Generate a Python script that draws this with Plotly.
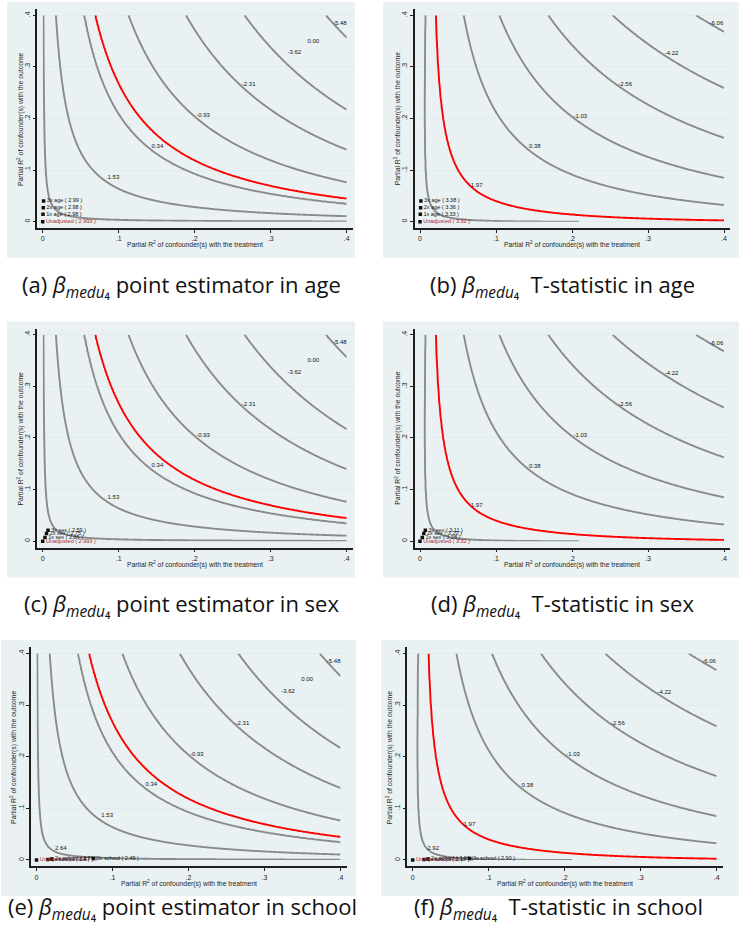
import numpy as np
import plotly.graph_objects as go

W, H = 739, 932

# ---------------- data ----------------
EST = 2.993        # unadjusted point estimate of beta_medu4
T_UNADJ = 3.32     # unadjusted t-statistic
DOF = 372          # residual degrees of freedom (fitted to curve shapes)

PT_LEVELS = [2.64, 1.53, 0.34, 0.00, -0.93, -2.31, -3.62, -5.48]
PT_THRESHOLD = 0.00
T_LEVELS = [2.92, 1.97, 0.38, -1.03, -2.56, -4.22, -6.06]
T_THRESHOLD = 1.97

PT_LABEL_TEXT = ["1.53", "0.34", "-0.93", "-2.31", "-3.62", "0.00", "-5.48"]
T_LABEL_TEXT = ["1.97", "0.38", "-1.03", "-2.56", "-4.22", "-6.06"]

AGE_R2D = [0.0, 0.0004, 0.0008, 0.0012]
AGE_R2Y = [0.0, 0.0145, 0.027, 0.040]
AGE_PT_TEXT = ["Unadjusted ( 2.993 )", "1x age ( 2.98 )", "2x age ( 2.98 )", "3x age ( 2.99 )"]
AGE_T_TEXT = ["Unadjusted ( 3.32 )", "1x age ( 3.33 )", "2x age ( 3.36 )", "3x age ( 3.38 )"]

SEX_R2D = [0.0, 0.003, 0.005, 0.007]
SEX_R2Y = [0.0, 0.007, 0.015, 0.021]
SEX_PT_TEXT = ["Unadjusted ( 2.993 )", "1x sex ( 2.86 )", "2x sex ( 2.75 )", "3x sex ( 2.59 )"]
SEX_T_TEXT = ["Unadjusted ( 3.32 )", "1x sex ( 3.28 )", "2x sex ( 3.20 )", "3x sex ( 3.11 )"]

SCHOOL_R2D = [0.0, 0.015, 0.02, 0.075]
SCHOOL_R2Y = [0.0, 0.001, 0.002, 0.003]
SCHOOL_PT_TEXT = ["Unadjusted ( 2.993 )", "1x school ( 2.87 )", "2x school ( 2.76 )", "3x school ( 2.49 )"]
SCHOOL_T_TEXT = ["Unadjusted ( 3.32 )", "1x school ( 3.18 )", "2x school ( 3.06 )", "3x school ( 2.90 )"]

TICK_VALS = [0, 0.1, 0.2, 0.3, 0.4]
TICK_TEXT = ["0", ".1", ".2", ".3", ".4"]

CAPTIONS = [
    "(a) <i>β</i><sub><i>medu</i>₄</sub> point estimator in age",
    "(b) <i>β</i><sub><i>medu</i>₄</sub>  T-statistic in age",
    "(c) <i>β</i><sub><i>medu</i>₄</sub> point estimator in sex",
    "(d) <i>β</i><sub><i>medu</i>₄</sub>  T-statistic in sex",
    "(e) <i>β</i><sub><i>medu</i>₄</sub> point estimator in school",
    "(f) <i>β</i><sub><i>medu</i>₄</sub>  T-statistic in school",
]
XTITLE = "Partial R<sup>2</sup> of confounder(s) with the treatment"
YTITLE = "Partial R<sup>2</sup> of confounder(s) with the outcome"

# ---------------- layout / style config ----------------
PT_LABEL_POS = [(0.093, 0.0855), (0.151, 0.146), (0.211, 0.205), (0.271, 0.265),
                (0.331, 0.327), (0.356, 0.350), (0.391, 0.385)]
T_LABEL_POS = [(0.0746, 0.0697), (0.151, 0.145), (0.211, 0.2046), (0.270, 0.265),
               (0.331, 0.325), (0.390, 0.384)]
EXTRA_LABEL = {4: ("2.64", 0.032, 0.023), 5: ("2.92", 0.027, 0.023)}

GRAY = "#8a8a8a"
RED = "#ff0000"
BG = "#eaf1f3"
GRID = "#e2ecef"
AX = "#1e1e1e"
FONT = "Liberation Sans, Arial, sans-serif"
XS, YS = 760.0, 516.0            # px per data unit
XR = [-0.007, 0.408]
YR = [-0.0125, 0.412]

PANELS = [
    dict(x0=42.7, y0=221.7, bg=(7, 2, 355, 258), kind="pt", r2d=AGE_R2D, r2y=AGE_R2Y, txt=AGE_PT_TEXT, capx=181, capy=286),
    dict(x0=420.0, y0=221.7, bg=(383, 2, 739, 258), kind="t", r2d=AGE_R2D, r2y=AGE_R2Y, txt=AGE_T_TEXT, capx=562, capy=286),
    dict(x0=42.7, y0=541.2, bg=(7, 321.5, 355, 577.5), kind="pt", r2d=SEX_R2D, r2y=SEX_R2Y, txt=SEX_PT_TEXT, capx=181, capy=605),
    dict(x0=420.0, y0=541.2, bg=(383, 321.5, 739, 577.5), kind="t", r2d=SEX_R2D, r2y=SEX_R2Y, txt=SEX_T_TEXT, capx=562, capy=605),
    dict(x0=36.5, y0=860.0, bg=(1, 640, 356, 896), kind="pt", r2d=SCHOOL_R2D, r2y=SCHOOL_R2Y, txt=SCHOOL_PT_TEXT, capx=182, capy=908),
    dict(x0=412.7, y0=860.0, bg=(381, 640, 739, 896), kind="t", r2d=SCHOOL_R2D, r2y=SCHOOL_R2Y, txt=SCHOOL_T_TEXT, capx=558, capy=908),
]

# ---------------- sensitivity surfaces ----------------
SE = EST / T_UNADJ
G = np.unique(np.concatenate([np.geomspace(1e-5, 0.02, 90), np.linspace(0.02, 0.4, 220)]))
X, Y = np.meshgrid(G, G)
BIAS = SE * np.sqrt(DOF) * np.sqrt(X * Y / (1 - X))
Z_PT = EST - BIAS
Z_T = (EST - BIAS) / (SE * np.sqrt((1 - Y) / (1 - X)) * np.sqrt(DOF / (DOF - 1)))


def level_index(z, levels, thr):
    lv = sorted(levels)
    n = len(lv)
    zi = np.interp(z, [lv[0] - 5] + lv + [lv[-1] + 5], [-1] + list(range(n)) + [n])
    return np.round(zi, 5), n, lv.index(thr)


def cscale(r, n):
    a = max((r - 0.5) / (n - 1), 0.0)
    b = min((r + 0.5) / (n - 1), 1.0)
    return [[0, GRAY], [a, GRAY], [a, RED], [b, RED], [b, GRAY], [1, GRAY]]


def px(x):
    return x / W


def py(y):
    return 1 - y / H


fig = go.Figure()
shapes, annotations = [], []
layout_axes = {}

for i, p in enumerate(PANELS):
    k = "" if i == 0 else str(i + 1)
    xa, ya = "x" + k, "y" + k
    left = p["x0"] + XR[0] * XS
    right = p["x0"] + XR[1] * XS
    bottom = p["y0"] - YR[0] * YS
    top = p["y0"] - YR[1] * YS

    bx0, by0, bx1, by1 = p["bg"]
    shapes.append(dict(type="rect", xref="paper", yref="paper", x0=px(bx0), x1=px(bx1),
                       y0=py(by1), y1=py(by0), fillcolor=BG, line=dict(width=0), layer="below"))

    common = dict(tickvals=TICK_VALS, ticktext=TICK_TEXT, ticks="outside", ticklen=3, tickwidth=1,
                  tickcolor=AX, showline=True, linecolor=AX, linewidth=1.6, zeroline=False,
                  tickfont=dict(size=7, family=FONT, color=AX), fixedrange=True)
    layout_axes["xaxis" + k] = dict(domain=[px(left), px(right)], range=XR, anchor=ya,
                                    showgrid=False, **common)
    layout_axes["yaxis" + k] = dict(domain=[py(bottom), py(top)], range=YR, anchor=xa,
                                    showgrid=True, gridcolor=GRID, gridwidth=1.2, tickangle=-90, **common)

    if p["kind"] == "pt":
        zi, n, r = level_index(Z_PT, PT_LEVELS, PT_THRESHOLD)
        lab_t, lab_pos = PT_LABEL_TEXT, PT_LABEL_POS
    else:
        zi, n, r = level_index(Z_T, T_LEVELS, T_THRESHOLD)
        lab_t, lab_pos = T_LABEL_TEXT, T_LABEL_POS

    fig.add_trace(go.Contour(x=G, y=G, z=zi, xaxis=xa, yaxis=ya,
                             contours=dict(start=0, end=n - 1, size=1, coloring="lines", showlabels=False),
                             colorscale=cscale(r, n), zmin=0, zmax=n - 1, showscale=False,
                             line=dict(width=1.9, smoothing=1), hoverinfo="skip"))

    # contour labels
    lx = [q[0] for q in lab_pos]
    ly = [q[1] for q in lab_pos]
    lt = list(lab_t)
    if i in EXTRA_LABEL:
        t, ex, ey = EXTRA_LABEL[i]
        lt.append(t); lx.append(ex); ly.append(ey)
    fig.add_trace(go.Scatter(x=lx, y=ly, text=lt, mode="text", xaxis=xa, yaxis=ya,
                             textfont=dict(size=6, family=FONT, color="#111"),
                             hoverinfo="skip", showlegend=False))

    # benchmarks
    colors = ["#b0262a"] + ["#111"] * (len(p["txt"]) - 1)
    fig.add_trace(go.Scatter(x=p["r2d"], y=p["r2y"], text=p["txt"], mode="markers+text",
                             textposition="middle right", xaxis=xa, yaxis=ya,
                             marker=dict(symbol="square", size=3.5, color="#111"),
                             textfont=dict(size=5.5, family=FONT, color=colors),
                             hoverinfo="skip", showlegend=False))

    # axis titles
    annotations.append(dict(x=px((left + right) / 2), y=py(p["y0"] + 23), xref="paper", yref="paper",
                            text=XTITLE, showarrow=False, xanchor="center", yanchor="middle",
                            font=dict(size=6.8, family=FONT, color=AX)))
    annotations.append(dict(x=px(left - 17), y=py((top + bottom) / 2), xref="paper", yref="paper",
                            text=YTITLE, showarrow=False, textangle=-90, xanchor="center", yanchor="middle",
                            font=dict(size=6.8, family=FONT, color=AX)))
    # caption
    annotations.append(dict(x=px(p["capx"]), y=py(p["capy"]), xref="paper", yref="paper",
                            text=CAPTIONS[i], showarrow=False, xanchor="center", yanchor="middle",
                            font=dict(size=22, family="Open Sans, sans-serif", color="#111")))

fig.update_layout(width=W, height=H, autosize=False, margin=dict(l=0, r=0, t=0, b=0),
                  paper_bgcolor="white", plot_bgcolor="white", showlegend=False,
                  shapes=shapes, annotations=annotations, **layout_axes)

fig.write_html("out.html", config=dict(displayModeBar=False))
